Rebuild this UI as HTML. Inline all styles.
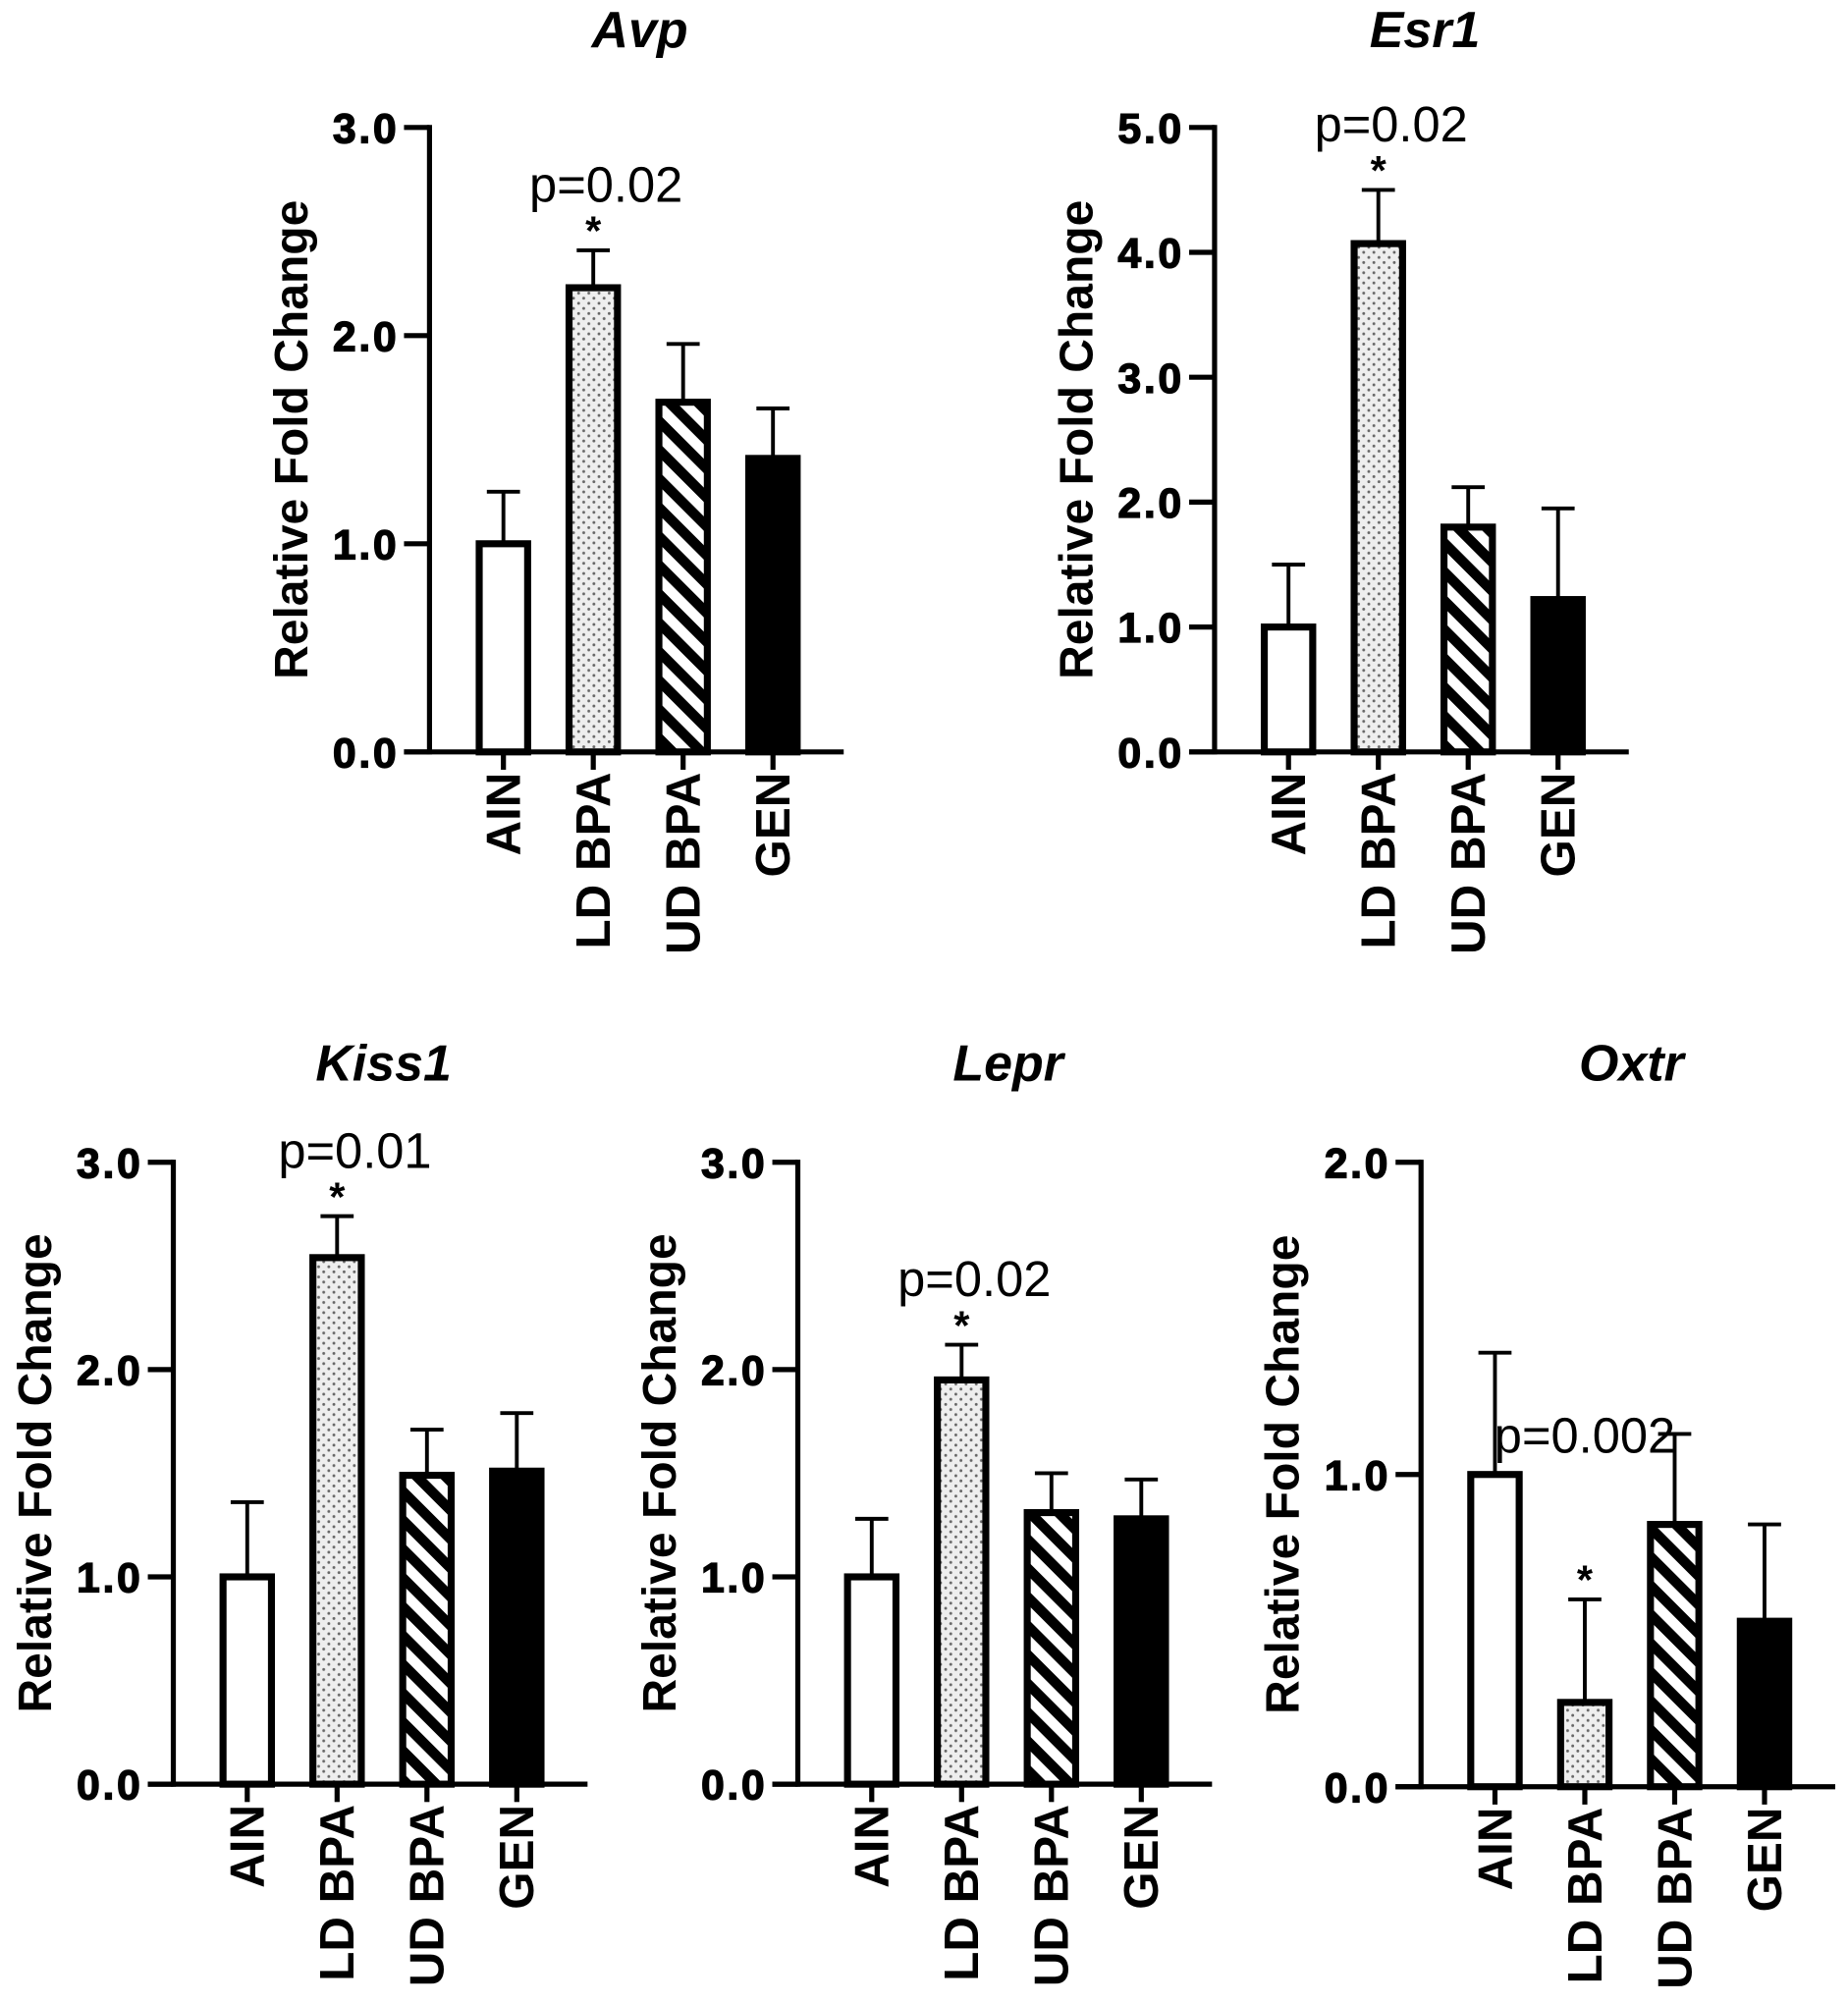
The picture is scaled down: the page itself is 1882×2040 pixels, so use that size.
<!DOCTYPE html>
<html><head><meta charset="utf-8"><style>
html,body{margin:0;padding:0;background:#fff}
svg{display:block}
text{font-family:"Liberation Sans",Arial,sans-serif;fill:#000}
</style></head><body>
<svg id="fig" width="1882" height="2040" viewBox="0 0 1450 1571.7" xmlns="http://www.w3.org/2000/svg">
<defs>
<pattern id="dots" patternUnits="userSpaceOnUse" width="8" height="8"><rect width="8" height="8" fill="#eee"/><circle cx="2" cy="2" r="1.1" fill="#666"/><circle cx="6" cy="6" r="1.1" fill="#666"/></pattern>
<pattern id="hatch" patternUnits="userSpaceOnUse" width="16" height="16" patternTransform="rotate(-45)"><rect width="16" height="16" fill="#fff"/><rect width="8" height="16" fill="#000"/></pattern>
</defs>
</svg>
<script>
var categories=["AIN","LD BPA","UD BPA","GEN"];
var genes=["Avp","Esr1","Kiss1","Lepr","Oxtr"];
var avpValues=[1.0,2.23,1.68,1.41];
var avpErrTop=[1.25,2.41,1.96,1.65];
var esr1Values=[1.0,4.07,1.8,1.22];
var esr1ErrTop=[1.5,4.5,2.12,1.95];
var kiss1Values=[1.0,2.54,1.49,1.51];
var kiss1ErrTop=[1.36,2.74,1.71,1.79];
var leprValues=[1.0,1.95,1.31,1.28];
var leprErrTop=[1.28,2.12,1.5,1.47];
var oxtrValues=[1.0,0.27,0.84,0.53];
var oxtrErrTop=[1.39,0.6,1.13,0.84];
var avpTicks=["0.0","1.0","2.0","3.0"];
var esr1Ticks=["0.0","1.0","2.0","3.0","4.0","5.0"];
var kiss1Ticks=["0.0","1.0","2.0","3.0"];
var leprTicks=["0.0","1.0","2.0","3.0"];
var oxtrTicks=["0.0","1.0","2.0"];
var pLabels=["p=0.02","p=0.02","p=0.01","p=0.02","p=0.002"];
var sigIndex=[1,1,1,1,1];

var NS="http://www.w3.org/2000/svg";
var svg=document.getElementById('fig');
function mk(tag,attrs,parent){var e=document.createElementNS(NS,tag);for(var k in attrs)e.setAttribute(k,attrs[k]);(parent||svg).appendChild(e);return e;}

var layout=[
 {ax:337,y0:590,yTop:100,max:3,vals:avpValues,errs:avpErrTop,ticks:avpTicks,pOff:[10,-10]},
 {ax:953,y0:590,yTop:100,max:5,vals:esr1Values,errs:esr1ErrTop,ticks:esr1Ticks,pOff:[10,-10]},
 {ax:136,y0:1400,yTop:912,max:3,vals:kiss1Values,errs:kiss1ErrTop,ticks:kiss1Ticks,pOff:[14,-10]},
 {ax:626,y0:1400,yTop:912,max:3,vals:leprValues,errs:leprErrTop,ticks:leprTicks,pOff:[10,-10]},
 {ax:1115,y0:1402,yTop:912,max:2,vals:oxtrValues,errs:oxtrErrTop,ticks:oxtrTicks,pOff:[0,0]}
];
var fills=["#fff","url(#dots)","url(#hatch)","#000"];

layout.forEach(function(L,gi){
  var g=mk('g',{});
  
  
  function y(v){return L.y0-(L.y0-L.yTop)*v/L.max;}
  function x(i){return L.ax+58+i*70.5;}
  var xEnd=L.ax+325;
  var t=mk('text',{x:L.ax+165,y:(L.y0>1000?848:37),'text-anchor':'middle','font-size':40,'font-weight':'bold','font-style':'italic'},g);
  t.textContent=genes[gi];
  
  
  var yl=mk('text',{transform:'translate('+(L.ax-96)+','+((L.y0+L.yTop)/2+0)+') rotate(-90)','text-anchor':'middle','font-size':37,'font-weight':'bold'},g);
  yl.textContent="Relative Fold Change";
  
  
  for(var i=0;i<categories.length;i++){
    var cx=x(i),v=L.vals[i],e=L.errs[i];
    var el=mk('line',{x1:cx,x2:cx,y1:y(v),y2:y(e),stroke:'#000','stroke-width':3},g);
    
    
    var cap=mk('line',{x1:cx-13,x2:cx+13,y1:y(e),y2:y(e),stroke:'#000','stroke-width':3},g);
    
    
    var r=mk('rect',{x:cx-19,y:y(v),width:38,height:L.y0-y(v),fill:fills[i],stroke:'#000','stroke-width':5.5},g);
    
    
    var tk=mk('line',{x1:cx,x2:cx,y1:L.y0,y2:L.y0+14,stroke:'#000','stroke-width':4},g);
    
    
    var cl=mk('text',{transform:'translate('+(cx+13)+','+(L.y0+16)+') rotate(-90)','text-anchor':'end','font-size':38,'font-weight':'bold'},g);
    cl.textContent=categories[i];
    
    
  }
  var ya=mk('line',{x1:L.ax,x2:L.ax,y1:L.yTop-2,y2:L.y0+2,stroke:'#000','stroke-width':4},g);
  
  
  var xa=mk('line',{x1:L.ax-20,x2:xEnd,y1:L.y0,y2:L.y0,stroke:'#000','stroke-width':4},g);
  
  
  for(var k=0;k<L.ticks.length;k++){
    var tv=parseFloat(L.ticks[k]);
    var yt=mk('line',{x1:L.ax-20,x2:L.ax,y1:y(tv),y2:y(tv),stroke:'#000','stroke-width':4},g);
    
    
    var tl=mk('text',{x:L.ax-24,y:y(tv)+12,'text-anchor':'end','font-size':33,'font-weight':'bold','letter-spacing':'2','stroke':'#000','stroke-width':1},g);
    tl.textContent=L.ticks[k];
    
    
  }
  var si=sigIndex[gi],sx=x(si),sy=y(L.errs[si]);
  var st=mk('text',{x:sx,y:sy-4,'text-anchor':'middle','font-size':32,'font-weight':'bold'},g);
  st.textContent="*";
  
  
  var py=(gi===4)?y(1.07):sy-38;
  var px=(gi===4)?sx:sx+L.pOff[0];
  var pl=mk('text',{x:px,y:py,'text-anchor':'middle','font-size':39},g);
  pl.textContent=pLabels[gi];
  
  
});
</script>
</body></html>
